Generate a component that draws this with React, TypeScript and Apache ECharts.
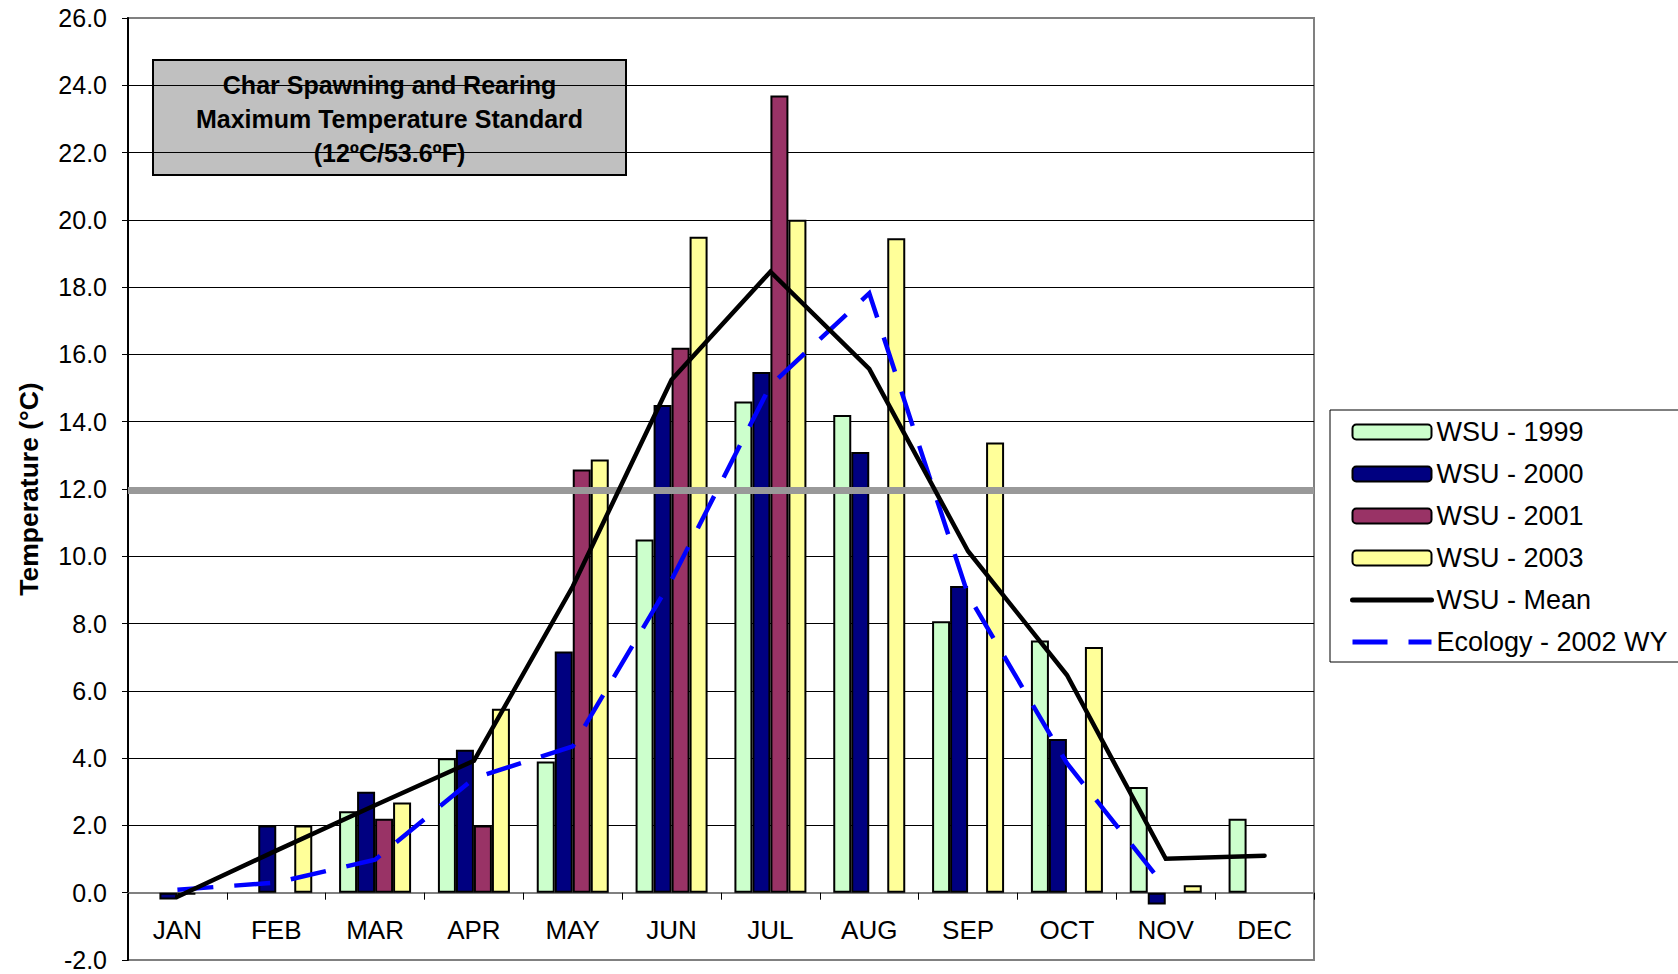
import React, { useEffect, useRef } from "react";
import * as echarts from "echarts";

const months = ["JAN", "FEB", "MAR", "APR", "MAY", "JUN", "JUL", "AUG", "SEP", "OCT", "NOV", "DEC"];
const wsu1999 = [null, null, 2.42, 4.0, 3.9, 10.5, 14.6, 14.2, 8.07, 7.5, 3.14, 2.2];
const wsu2000 = [-0.2, 2.0, 3.0, 4.25, 7.17, 14.5, 15.48, 13.1, 9.12, 4.57, -0.35, null];
const wsu2001 = [-0.06, null, 2.2, 2.0, 12.58, 16.2, 23.7, null, null, null, null, null];
const wsu2003 = [null, 2.0, 2.68, 5.47, 12.88, 19.5, 20.0, 19.45, 13.38, 7.3, 0.22, null];
const wsuMean = [-0.12, 1.25, 2.6, 3.92, 9.1, 15.25, 18.46, 15.57, 10.15, 6.47, 1.01, 1.1];
const ecology2002 = [0.09, 0.3, 0.98, 3.4, 4.35, 9.3, 15.08, 17.82, 8.85, 3.85, 0.15, null];
const standardValue = 11.95;
const yTicks = { min: -2, max: 26, interval: 2 };
const boxLines = ["Char Spawning and Rearing", "Maximum Temperature Standard", "(12ºC/53.6ºF)"];

const FONT = '"Liberation Sans", Arial, sans-serif';
const GRID = { left: 128, top: 18, right: 364, bottom: 14 };
const HEIGHT = 974;

export default function App() {
  const ref = useRef<HTMLDivElement>(null);
  useEffect(() => {
    const chart = echarts.init(ref.current!, null, { renderer: "svg" });
    const barSeries = (name: string, data: (number | null)[], color: string, extra: any = {}) => ({
      type: "bar",
      name,
      data,
      barWidth: 18,
      barGap: "0%",
      z: 2,
      itemStyle: { color, borderColor: "#000", borderWidth: 2 },
      ...extra,
    });
    const splitColors = [] as string[];
    for (let v = yTicks.min; v <= yTicks.max; v += yTicks.interval) {
      splitColors.push(v === yTicks.min || v === yTicks.max || v === 0 ? "#808080" : "#000000");
    }
    // distance from the bottom of the plot (y = min) up to y = 0, so the category axis sits on zero
    const plotH = HEIGHT - GRID.top - GRID.bottom;
    const zeroOffset = -((0 - yTicks.min) / (yTicks.max - yTicks.min)) * plotH;
    const hiddenLegendSymbol = { color: "rgba(0,0,0,0)", borderWidth: 0, opacity: 0 };
    chart.setOption({
      animation: false,
      backgroundColor: "#ffffff",
      textStyle: { fontFamily: FONT },
      grid: {
        ...GRID,
        outerBoundsMode: "none",
        containLabel: false,
        show: true,
        borderColor: "#808080",
        borderWidth: 2,
        backgroundColor: "transparent",
      },
      xAxis: {
        type: "category",
        data: months,
        offset: zeroOffset,
        axisLine: { onZero: false, lineStyle: { color: "#808080", width: 2 } },
        axisTick: { show: true, length: 7, lineStyle: { color: "#000", width: 1 } },
        axisLabel: { interval: 0, margin: 24, fontSize: 26, color: "#000", fontFamily: FONT },
        splitLine: { show: false },
      },
      yAxis: {
        type: "value",
        min: yTicks.min,
        max: yTicks.max,
        interval: yTicks.interval,
        name: "Temperature (°C)",
        nameLocation: "middle",
        nameRotate: 90,
        nameGap: 86,
        nameTextStyle: { fontSize: 26.5, fontWeight: "bold", color: "#000", fontFamily: FONT },
        axisLine: { show: true, lineStyle: { color: "#000", width: 2 } },
        axisTick: { show: true, length: 6, lineStyle: { color: "#000", width: 1 } },
        axisLabel: {
          margin: 21,
          fontSize: 25,
          color: "#000",
          fontFamily: FONT,
          formatter: (v: number) => v.toFixed(1),
        },
        splitLine: { show: true, lineStyle: { color: splitColors, width: 1 } },
      },
      legend: {
        orient: "vertical",
        left: 1330,
        top: 410,
        itemWidth: 79,
        itemHeight: 15,
        itemGap: 12,
        padding: [7, 60, 5, 20],
        borderColor: "#000",
        borderWidth: 1,
        backgroundColor: "#fff",
        textStyle: { fontSize: 27, lineHeight: 30, color: "#000", fontFamily: FONT },
        data: [
          "WSU - 1999",
          "WSU - 2000",
          "WSU - 2001",
          "WSU - 2003",
          {
            name: "WSU - Mean",
            itemStyle: hiddenLegendSymbol,
            lineStyle: { width: 5, color: "#000", cap: "round" },
          },
          {
            name: "Ecology - 2002 WY",
            itemStyle: hiddenLegendSymbol,
            lineStyle: { width: 5, color: "#0000FF", type: [35, 21] },
          },
        ],
      },
      series: [
        barSeries("WSU - 1999", wsu1999, "#CCFFCC", {
          markLine: {
            silent: true,
            symbol: ["none", "none"],
            label: { show: false },
            z: 5,
            lineStyle: { color: "#999999", width: 7, type: "solid" },
            data: [{ yAxis: standardValue }],
          },
        }),
        barSeries("WSU - 2000", wsu2000, "#000080"),
        barSeries("WSU - 2001", wsu2001, "#993366"),
        barSeries("WSU - 2003", wsu2003, "#FFFF99"),
        {
          type: "line",
          name: "WSU - Mean",
          data: wsuMean,
          z: 8,
          symbol: "none",
          showSymbol: false,
          itemStyle: { color: "#000" },
          lineStyle: { color: "#000", width: 4.5, join: "miter", cap: "round" },
        },
        {
          type: "line",
          name: "Ecology - 2002 WY",
          data: ecology2002,
          z: 7,
          symbol: "none",
          showSymbol: false,
          connectNulls: false,
          itemStyle: { color: "#0000FF" },
          lineStyle: { color: "#0000FF", width: 4.5, type: [36, 21], join: "miter" },
        },
      ],
      graphic: [
        {
          type: "group",
          z: 20,
          children: [
            {
              type: "rect",
              shape: { x: 153, y: 60, width: 473, height: 115 },
              style: { fill: "#C0C0C0", stroke: "#000", lineWidth: 2 },
            },
            {
              type: "text",
              x: 389.5,
              y: 119,
              style: {
                text: boxLines.join("\n"),
                fontSize: 25,
                fontWeight: "bold",
                fontFamily: FONT,
                align: "center",
                verticalAlign: "middle",
                lineHeight: 34,
                fill: "#000",
              },
            },
          ],
        },
      ],
    });
    return () => chart.dispose();
  }, []);
  return (
    <div
      ref={ref}
      style={{ position: "fixed", left: 0, top: 0, width: 1678, height: HEIGHT, background: "#fff" }}
    />
  );
}
